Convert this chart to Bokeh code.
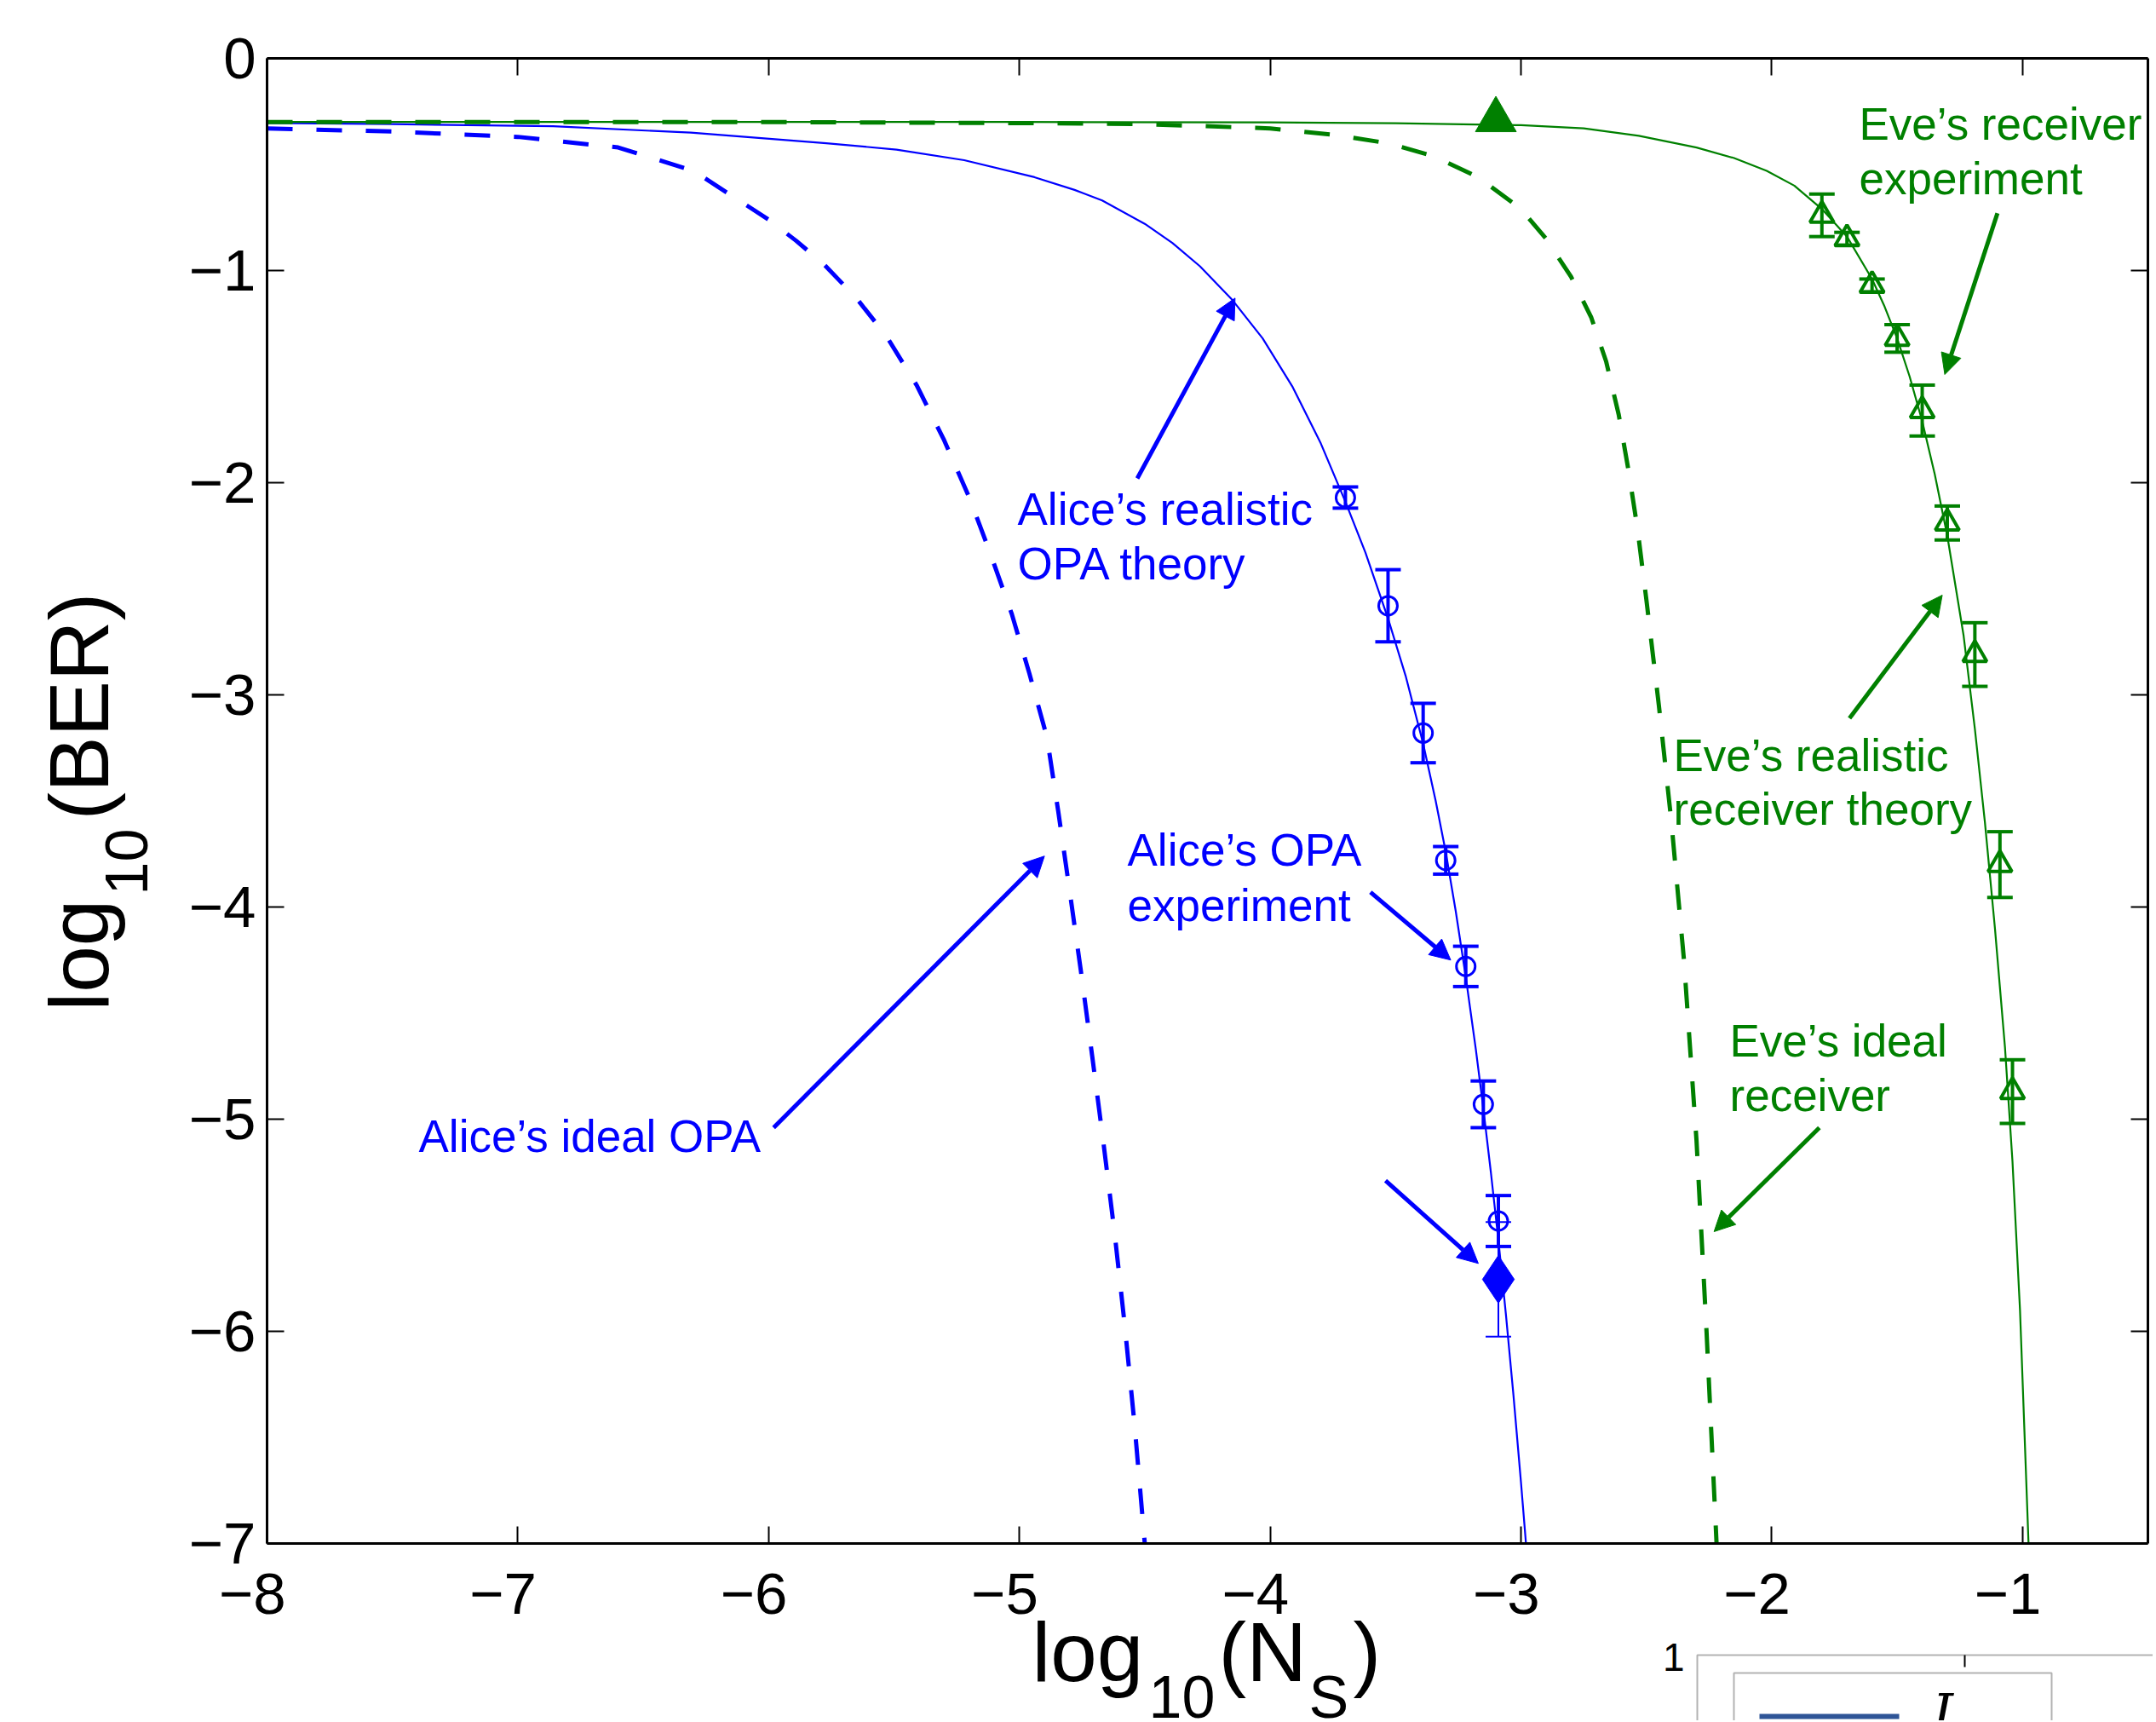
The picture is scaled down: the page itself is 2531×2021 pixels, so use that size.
import math
from bokeh.plotting import figure
from bokeh.models import (Range1d, LinearAxis, FixedTicker, ColumnDataSource, Whisker, TeeHead,
                          Arrow, NormalHead, Label, BoxAnnotation, CustomJSTickFormatter)
from bokeh.core.properties import value
from bokeh.embed import file_html
from bokeh.resources import INLINE

# ---------------- data ----------------
x_ticks = [-8, -7, -6, -5, -4, -3, -2, -1]
y_ticks = [-7, -6, -5, -4, -3, -2, -1, 0]

# Alice's ideal OPA (blue dashed)
alice_ideal_x = [-8.0, -7.5, -7.0, -6.6, -6.3, -6.0, -5.89, -5.78, -5.65, -5.53, -5.41, -5.30,
                 -5.20, -5.12, -5.03, -4.96, -4.89, -4.845, -4.80, -4.755, -4.71, -4.665, -4.62,
                 -4.58, -4.54, -4.50]
alice_ideal_y = [-0.33, -0.345, -0.37, -0.42, -0.53, -0.76, -0.86, -0.97, -1.13, -1.31, -1.54, -1.80,
                 -2.07, -2.32, -2.62, -2.90, -3.20, -3.55, -3.92, -4.30, -4.70, -5.11, -5.54,
                 -5.97, -6.45, -7.0]

# Alice's realistic OPA theory (blue solid)
alice_real_x = [-8.0, -7.5, -6.86, -6.31, -5.77, -5.49, -5.22, -4.94, -4.78, -4.67, -4.50, -4.39,
                -4.28, -4.15, -4.03, -3.91, -3.80, -3.70, -3.62, -3.53, -3.46, -3.39, -3.34,
                -3.30, -3.26, -3.22, -3.18, -3.15, -3.12, -3.09, -3.06, -3.03, -3.00, -2.98]
alice_real_y = [-0.305, -0.31, -0.32, -0.35, -0.40, -0.43, -0.48, -0.56, -0.62, -0.67, -0.78, -0.87,
                -0.98, -1.14, -1.32, -1.55, -1.81, -2.09, -2.33, -2.64, -2.91, -3.23, -3.50,
                -3.74, -4.02, -4.33, -4.67, -4.95, -5.25, -5.57, -5.92, -6.30, -6.71, -7.0]

# Eve's ideal receiver (green dashed)
eve_ideal_x = [-8.0, -6.0, -5.0, -4.5, -4.0, -3.75, -3.53, -3.35, -3.17, -3.00, -2.90, -2.80,
               -2.72, -2.66, -2.61, -2.57, -2.535, -2.50, -2.45, -2.40, -2.35, -2.30, -2.26, -2.22]
eve_ideal_y = [-0.30, -0.30, -0.305, -0.31, -0.33, -0.36, -0.40, -0.46, -0.56, -0.71, -0.85, -1.03,
               -1.22, -1.43, -1.68, -1.95, -2.22, -2.55, -3.05, -3.60, -4.25, -5.10, -6.00, -7.0]

# Eve's realistic receiver theory (green solid)
eve_real_x = [-8.0, -5.0, -4.0, -3.5, -3.0, -2.75, -2.53, -2.30, -2.15, -2.02, -1.91, -1.80, -1.70,
              -1.60, -1.55, -1.50, -1.45, -1.40, -1.35, -1.30, -1.235, -1.19, -1.15, -1.11, -1.07,
              -1.04, -1.01, -0.976]
eve_real_y = [-0.30, -0.30, -0.302, -0.306, -0.315, -0.33, -0.365, -0.42, -0.47, -0.53, -0.60, -0.71,
              -0.84, -1.04, -1.17, -1.32, -1.50, -1.71, -1.96, -2.25, -2.72, -3.16, -3.60, -4.10,
              -4.66, -5.20, -5.90, -7.0]

# Alice's OPA experiment (blue circles with error bars)
alice_exp_x = [-3.70, -3.53, -3.39, -3.30, -3.22, -3.15, -3.09]
alice_exp_y = [-2.07, -2.58, -3.18, -3.78, -4.28, -4.93, -5.48]
alice_exp_err = [0.05, 0.17, 0.14, 0.065, 0.095, 0.11, 0.12]

# single filled diamond point
diamond_x = [-3.09]
diamond_y = [-5.755]
diamond_err = [0.27]

# Eve's receiver experiment (green triangles with error bars)
eve_exp_x = [-1.80, -1.70, -1.60, -1.50, -1.40, -1.30, -1.19, -1.09, -1.04]
eve_exp_y = [-0.74, -0.85, -1.07, -1.32, -1.66, -2.19, -2.81, -3.80, -4.87]
eve_exp_err = [0.10, 0.03, 0.03, 0.065, 0.12, 0.08, 0.15, 0.155, 0.15]

# single filled triangle point
big_tri_x = [-3.10]
big_tri_y = [-0.29]

# ---------------- layout ----------------
FONT = "Liberation Sans"
BLUE = "#0000ff"
GREEN = "#008000"
W, H = 2527, 2019                          # canvas size
L, T, R, B = 313, 68, 2521, 1811           # plot box edges in canvas pixels
X0, X1, Y0, Y1 = -8.0, -0.5, -7.0, 0.0     # axis limits
BASE = 0.34                                # baseline correction, in em


def dx(px):
    return X0 + (px - L) * (X1 - X0) / (R - L)


def dy(py):
    return Y1 - (py - T) * (Y1 - Y0) / (B - T)


# the frame spans the whole canvas; the box axes are pinned at the axis limits
p = figure(width=W, height=H, min_border=0,
           x_range=Range1d(dx(0), dx(W)), y_range=Range1d(dy(H), dy(0)),
           x_axis_location=None, y_axis_location=None,
           output_backend="svg", toolbar_location=None)
p.min_border_left = p.min_border_right = p.min_border_top = p.min_border_bottom = 0
p.xgrid.visible = False
p.ygrid.visible = False
p.outline_line_color = None
p.background_fill_color = "white"
p.border_fill_color = "white"

fmt_x = CustomJSTickFormatter(code="return (tick < 0 ? '\\u2212' + Math.abs(tick) : String(tick)) + '\\u2002';")
fmt_y = CustomJSTickFormatter(code="return tick < 0 ? '\\u2212' + Math.abs(tick) : String(tick);")
blank = CustomJSTickFormatter(code="return '';")

common = dict(major_tick_in=20, major_tick_out=0, minor_tick_line_color=None,
              axis_line_width=3, axis_line_color="black", major_tick_line_width=2,
              major_tick_line_color="black", major_label_text_font=FONT,
              major_label_text_color="black")

ax_b = LinearAxis(ticker=FixedTicker(ticks=x_ticks), formatter=fmt_x, fixed_location=Y0,
                  bounds=(X0, X1), major_label_text_font_size="69px", major_label_standoff=20, **common)
ax_l = LinearAxis(ticker=FixedTicker(ticks=y_ticks), formatter=fmt_y, fixed_location=X0,
                  bounds=(Y0, Y1), major_label_text_font_size="69px", major_label_standoff=13, **common)
ax_t = LinearAxis(ticker=FixedTicker(ticks=x_ticks), formatter=blank, fixed_location=Y1,
                  bounds=(X0, X1), major_label_text_font_size="0px", major_label_standoff=0, **common)
ax_r = LinearAxis(ticker=FixedTicker(ticks=y_ticks), formatter=blank, fixed_location=X1,
                  bounds=(Y0, Y1), major_label_text_font_size="0px", major_label_standoff=0, **common)
p.add_layout(ax_b, "below")
p.add_layout(ax_l, "left")
p.add_layout(ax_t, "above")
p.add_layout(ax_r, "right")

# ---------------- curves ----------------
p.line(alice_ideal_x, alice_ideal_y, line_color=BLUE, line_width=5, line_dash="30 28")
p.line(alice_real_x, alice_real_y, line_color=BLUE, line_width=2.2)
p.line(eve_ideal_x, eve_ideal_y, line_color=GREEN, line_width=5, line_dash="30 28")
p.line(eve_real_x, eve_real_y, line_color=GREEN, line_width=2.2)

# ---------------- error bars and markers ----------------
def err_source(xs, ys, es):
    return ColumnDataSource(dict(x=xs, y=ys,
                                 upper=[y + e for y, e in zip(ys, es)],
                                 lower=[y - e for y, e in zip(ys, es)]))


src_a = err_source(alice_exp_x, alice_exp_y, alice_exp_err)
src_d = err_source(diamond_x, diamond_y, diamond_err)
src_e = err_source(eve_exp_x, eve_exp_y, eve_exp_err)

for src, col, lw in ((src_a, BLUE, 4), (src_d, BLUE, 2), (src_e, GREEN, 4)):
    p.add_layout(Whisker(source=src, base="x", upper="upper", lower="lower", dimension="height",
                         line_color=col, line_width=lw,
                         upper_head=TeeHead(size=30, line_color=col, line_width=lw),
                         lower_head=TeeHead(size=30, line_color=col, line_width=lw)))

p.scatter("x", "y", source=src_a, marker="circle", size=22, fill_color=None,
          line_color=BLUE, line_width=3)
p.scatter("x", "y", source=src_d, marker="diamond", size=56, fill_color=BLUE, line_color=BLUE)
p.scatter("x", "y", source=src_e, marker="triangle", size=28, fill_color=None,
          line_color=GREEN, line_width=4)
p.scatter(big_tri_x, big_tri_y, marker="triangle", size=48, fill_color=GREEN, line_color=GREEN)

# ---------------- annotation texts (left edge, baseline in canvas pixels) ----------------
TXT = 53
blue_texts = [("Alice\u2019s realistic", 1194, 615), ("OPA theory", 1194, 679),
              ("Alice\u2019s OPA", 1323, 1015), ("experiment", 1323, 1080),
              ("Alice\u2019s ideal OPA", 491, 1351)]
green_texts = [("Eve\u2019s receiver", 2182, 163), ("experiment", 2182, 227),
               ("Eve\u2019s realistic", 1964, 904), ("receiver theory", 1964, 967),
               ("Eve\u2019s ideal", 2030, 1239), ("receiver", 2030, 1303)]
for items, col in ((blue_texts, BLUE), (green_texts, GREEN)):
    p.text(x=[dx(a[1]) for a in items], y=[dy(a[2] - BASE * TXT) for a in items],
           text=[a[0] for a in items],
           text_font=value(FONT), text_font_size=f"{TXT}px", text_color=col,
           text_align="left", text_baseline="alphabetic")

# ---------------- arrows ----------------
arrows = [((-4.53, -1.98), (-4.14, -1.13), BLUE),
          ((-3.60, -3.93), (-3.28, -4.25), BLUE),
          ((-5.98, -5.04), (-4.90, -3.76), BLUE),
          ((-3.54, -5.29), (-3.17, -5.68), BLUE),
          ((-1.10, -0.73), (-1.31, -1.49), GREEN),
          ((-1.69, -3.11), (-1.32, -2.53), GREEN),
          ((-1.81, -5.04), (-2.23, -5.53), GREEN)]
for (xs, ys), (xe, ye), col in arrows:
    p.add_layout(Arrow(x_start=xs, y_start=ys, x_end=xe, y_end=ye, line_color=col, line_width=5,
                       end=NormalHead(size=24, fill_color=col, line_color=col, line_width=1)))


# ---------------- axis titles (with subscripts) ----------------
def lab(text, px, py, size, angle=0.0, font=FONT, style="normal", color="black", align="left"):
    corr = BASE * size
    if angle:
        px -= corr
    else:
        py -= corr
    p.add_layout(Label(x=dx(px), y=dy(py), text=text, angle=angle, text_font=font,
                       text_font_size=f"{size}px", text_font_style=style, text_color=color,
                       text_align=align, text_baseline="alphabetic"))


lab("log", 1211, 1972, 98)
lab("10", 1348, 2015, 70)
lab("(N", 1430, 1972, 98)
lab("S", 1536, 2015, 70)
lab(")", 1588, 1972, 98)

lab("log", 126, 1186, 98, angle=math.pi / 2)
lab("10", 172, 1050, 70, angle=math.pi / 2)
lab("(BER)", 126, 962, 98, angle=math.pi / 2)

# ---------------- fragment of a neighbouring panel (bottom right) ----------------
p.add_layout(BoxAnnotation(left=dx(1992), right=dx(2700), top=dy(1942), bottom=dy(2200),
                           fill_color=None, line_color="black", line_width=2))
p.add_layout(BoxAnnotation(left=dx(2305), right=dx(2307), top=dy(1942), bottom=dy(1956),
                           fill_color="black", fill_alpha=1, line_color=None))
p.add_layout(BoxAnnotation(left=dx(2035), right=dx(2408), top=dy(1963), bottom=dy(2200),
                           fill_color=None, line_color="black", line_width=2))
p.add_layout(BoxAnnotation(left=dx(2065), right=dx(2229), top=dy(2011), bottom=dy(2017),
                           fill_color="#2f5597", fill_alpha=1, line_color=None))
lab("1", 1977, 1960, 46, align="right")
lab("I", 2268, 2031, 62, font="DejaVu Serif", style="italic")

open("out.html", "w").write(file_html(p, INLINE))
